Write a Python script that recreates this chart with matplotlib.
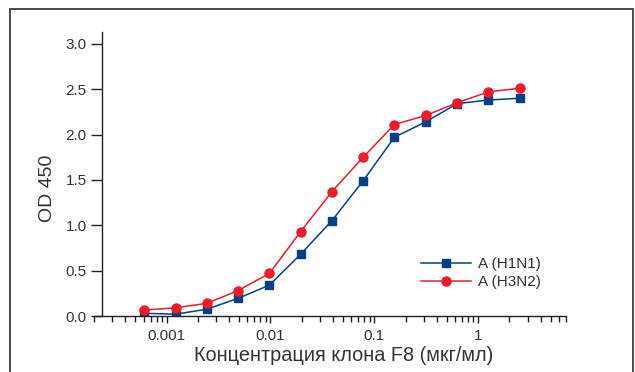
import matplotlib.pyplot as plt
from matplotlib.patches import Rectangle
from matplotlib.ticker import LogLocator, NullFormatter, FixedLocator

plt.rcParams['font.family'] = ['Liberation Sans', 'DejaVu Sans']

# serial two-fold dilutions, ug/ml
conc = [0.00061, 0.00122, 0.00244, 0.00488, 0.00977, 0.0195, 0.039,
        0.078, 0.156, 0.3125, 0.625, 1.25, 2.5]
h1n1 = [0.03, 0.02, 0.075, 0.195, 0.34, 0.68, 1.05, 1.49, 1.97, 2.14, 2.34, 2.38, 2.40]
h3n2 = [0.066, 0.09, 0.14, 0.28, 0.47, 0.93, 1.37, 1.75, 2.11, 2.21, 2.35, 2.47, 2.51]
series_names = ['A (H1N1)', 'A (H3N2)']
xticks = [0.001, 0.01, 0.1, 1]
xticklabels = ['0.001', '0.01', '0.1', '1']
yticks = [0.0, 0.5, 1.0, 1.5, 2.0, 2.5, 3.0]

blue = '#063f86'
red = '#ec1c2a'
txt = '#333333'

fig = plt.figure(figsize=(6.35, 3.72), dpi=100)
W, H = 635, 372
ax = fig.add_axes([94 / W, 1 - 316 / H, (566 - 94) / W, (316 - 32) / H])

# outer frame
fig.patches.append(Rectangle((10 / W, -0.05), (633 - 10) / W, 1 - 9 / H + 0.05,
                             transform=fig.transFigure, fill=False,
                             edgecolor='#3a3a3a', linewidth=1.3))

ax.plot(conc, h1n1, color=blue, lw=1.1, marker='s', ms=6, label=series_names[0])
ax.plot(conc, h3n2, color=red, lw=1.1, marker='o', ms=6.5, label=series_names[1])

ax.set_xscale('log')
ax.set_xlim(0.0002, 7)
ax.set_ylim(0, 3.13)

for s in ['top', 'right']:
    ax.spines[s].set_visible(False)
ax.spines['left'].set_position(('axes', 8 / 472))
ax.spines['left'].set_bounds(0, 3.13)
for s in ['left', 'bottom']:
    ax.spines[s].set_color('#222222')
    ax.spines[s].set_linewidth(1.0)

ax.xaxis.set_major_locator(FixedLocator(xticks))
ax.set_xticklabels(xticklabels)
ax.xaxis.set_minor_locator(LogLocator(base=10, subs=range(2, 10), numticks=20))
ax.xaxis.set_minor_formatter(NullFormatter())
ax.set_yticks(yticks)
ax.set_yticklabels([f'{v:.1f}' for v in yticks])

ax.tick_params(axis='x', which='major', length=5, width=1, color='#222222',
               labelsize=11, labelcolor=txt, pad=4)
ax.tick_params(axis='x', which='minor', length=4, width=1, color='#222222')
ax.tick_params(axis='y', which='major', length=8, width=1, color='#222222',
               labelsize=11, labelcolor=txt, pad=3)

ax.set_ylabel('OD 450', fontsize=14, color=txt)
ax.yaxis.set_label_coords(-0.08, 0.45)
ax.set_xlabel('Концентрация клона F8 (мкг/мл)', fontsize=14.3, color=txt)
ax.xaxis.set_label_coords(0.53, -0.105)

ax.legend(loc='lower right', bbox_to_anchor=(0.975, 0.045), frameon=False,
          fontsize=11, handlelength=3.3, handletextpad=0.4, labelspacing=0.3,
          labelcolor=txt)

fig.savefig('out.png', dpi=100)
